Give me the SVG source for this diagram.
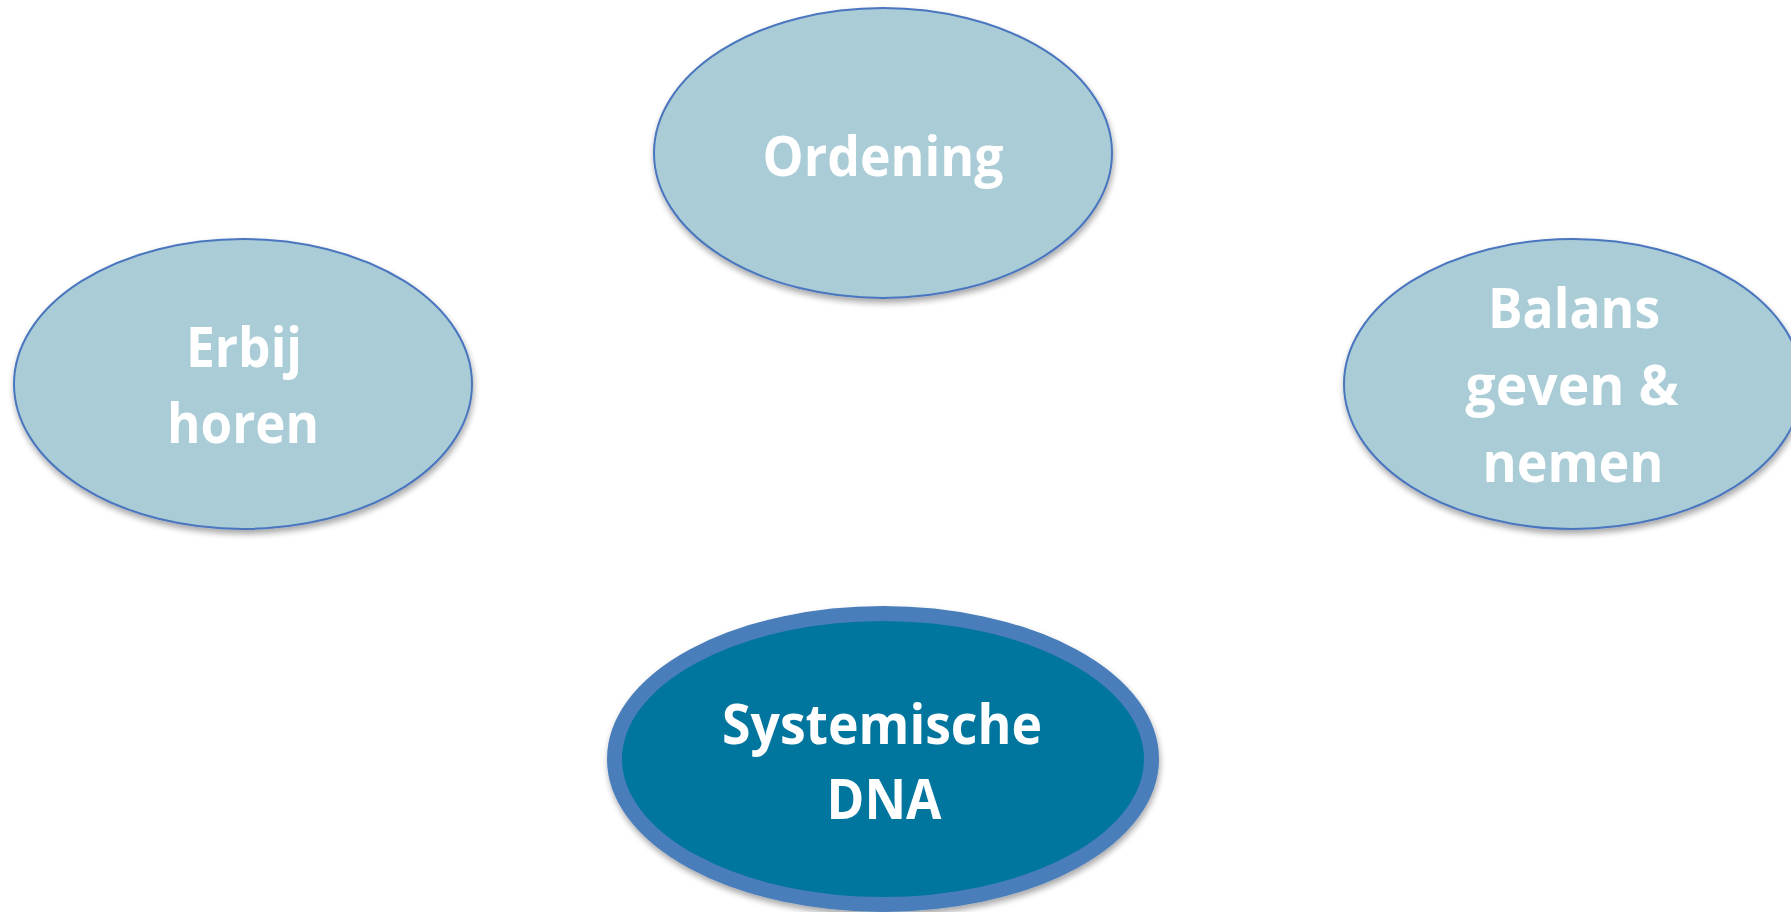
<svg xmlns="http://www.w3.org/2000/svg" width="1791" height="912" viewBox="0 0 1791 912">
  <defs>
    <filter id="shadow" x="-10%" y="-10%" width="120%" height="130%">
      <feGaussianBlur in="SourceAlpha" stdDeviation="3"/>
      <feOffset dx="1" dy="4" result="blur"/>
      <feComponentTransfer><feFuncA type="linear" slope="0.35"/></feComponentTransfer>
      <feMerge><feMergeNode/><feMergeNode in="SourceGraphic"/></feMerge>
    </filter>
  </defs>
  <style>
    .light { fill: #AACCD6; stroke: #4A76BE; stroke-width: 2; }
    .dark { fill: #00759E; stroke: #4A7EBB; stroke-width: 15; }
    .lbl { font-family: "Open Sans", "Liberation Sans", sans-serif; font-weight: bold; font-size: 56px; fill: #FFFFFF; text-anchor: middle; }
  </style>
  <rect width="1791" height="912" fill="#FFFFFF"/>
  <g id="connectors"></g>
  <g id="node-ordening">
    <ellipse class="light" cx="883" cy="153" rx="229" ry="145" filter="url(#shadow)"/>
    <text class="lbl" x="883" y="176" textLength="241" lengthAdjust="spacingAndGlyphs">Ordening</text>
  </g>
  <g id="node-erbij-horen">
    <ellipse class="light" cx="243" cy="384" rx="229" ry="145" filter="url(#shadow)"/>
    <text class="lbl" x="244" y="367" textLength="116" lengthAdjust="spacingAndGlyphs">Erbij</text>
    <text class="lbl" x="243" y="443" textLength="152" lengthAdjust="spacingAndGlyphs">horen</text>
  </g>
  <g id="node-balans">
    <ellipse class="light" cx="1573" cy="384" rx="229" ry="145" filter="url(#shadow)"/>
    <text class="lbl" x="1574" y="328" textLength="172" lengthAdjust="spacingAndGlyphs">Balans</text>
    <text class="lbl" x="1572" y="405" textLength="213" lengthAdjust="spacingAndGlyphs">geven &amp;</text>
    <text class="lbl" x="1573" y="482" textLength="181" lengthAdjust="spacingAndGlyphs">nemen</text>
  </g>
  <g id="node-systemische-dna">
    <ellipse class="dark" cx="883" cy="759" rx="268.5" ry="145.5" filter="url(#shadow)"/>
    <text class="lbl" x="882" y="744" textLength="320" lengthAdjust="spacingAndGlyphs">Systemische</text>
    <text class="lbl" x="884" y="819" textLength="115" lengthAdjust="spacingAndGlyphs">DNA</text>
  </g>
</svg>
